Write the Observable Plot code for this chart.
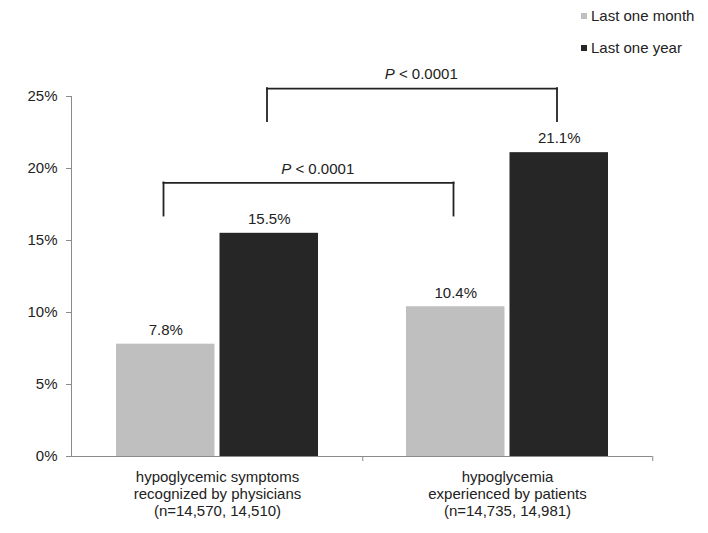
<!DOCTYPE html>
<html><head><meta charset="utf-8">
<script src="https://cdn.jsdelivr.net/npm/d3@7"></script>
<script src="https://cdn.jsdelivr.net/npm/@observablehq/plot@0.6"></script>
<style>
body{margin:0;background:#fff;font-family:"Liberation Sans",Arial,sans-serif;}
#wrap{width:708px;}
#legend{position:relative;height:64px;font-size:15px;color:#222;}
.item{position:absolute;left:581px;display:flex;align-items:center;height:18px;line-height:18px;white-space:nowrap;}
.sw{width:6px;height:6px;margin-right:4px;}
</style></head><body>
<div id="wrap"><div id="legend"></div><div id="chart"></div></div>
<script>
const categories = [
  "hypoglycemic symptoms\nrecognized by physicians\n(n=14,570, 14,510)",
  "hypoglycemia\nexperienced by patients\n(n=14,735, 14,981)"
];
const seriesNames = ["Last one month", "Last one year"];
const lastMonth = [7.8, 10.4];
const lastYear = [15.5, 21.1];
const seriesColors = ["#bfbfbf", "#262626"];
const yTicks = [0, 5, 10, 15, 20, 25];
const pLabels = ["P < 0.0001", "P < 0.0001"];
const bracketSeries = ["Last one month", "Last one year"];
const bracketTop = [19.0, 25.55];
const bracketBottom = [16.7, 23.25];

// legend
const legend = document.getElementById("legend");
seriesNames.forEach((s, i) => {
  const it = document.createElement("div");
  it.className = "item";
  it.style.top = (7 + i * 32) + "px";
  const sw = document.createElement("span");
  sw.className = "sw";
  sw.style.background = seriesColors[i];
  it.appendChild(sw);
  it.appendChild(document.createTextNode(s));
  legend.appendChild(it);
});

const W = 708, H = 469, mL = 71, mR = 56, mT = 32, mB = 77;
const bw = (W - mL - mR) / categories.length;
const gap = 4.5, barW = 99;
const sOff = s => (s === seriesNames[0] ? -1 : 1) * (gap / 2 + barW / 2);
const data = categories.flatMap((c, i) => [
  {category: c, series: seriesNames[0], value: lastMonth[i]},
  {category: c, series: seriesNames[1], value: lastYear[i]}
]);
const brackets = bracketSeries.map((s, i) => ({
  series: s, from: categories[0], to: categories[1],
  top: bracketTop[i], bottom: bracketBottom[i], label: pLabels[i]
}));
const axisColor = "#8a8a8a", ink = "#222";

const marks = [
  Plot.frame({anchor: "left", stroke: axisColor}),
  Plot.ruleY([0], {stroke: axisColor}),
  Plot.ruleX(categories, {x: d => d, y1: 0, y2: -0.35, dx: bw / 2, stroke: axisColor}),
  Plot.axisY({ticks: yTicks, tickFormat: d => d + "%", tickSize: 5, tickPadding: 9, fontSize: 15, stroke: axisColor, fill: ink}),
  Plot.text(categories, {x: d => d, text: d => d, frameAnchor: "bottom", lineAnchor: "top", dy: 13, lineHeight: 1.133, fontSize: 15, fill: ink}),
  ...seriesNames.map(s => Plot.barY(data.filter(d => d.series === s), {
    x: "category", y: "value", fill: "series",
    insetLeft: bw / 2 + sOff(s) - barW / 2, insetRight: bw / 2 - sOff(s) - barW / 2
  })),
  ...seriesNames.map(s => Plot.text(data.filter(d => d.series === s), {
    x: "category", y: "value", text: d => d.value.toFixed(1) + "%",
    dx: sOff(s), dy: -14, fontSize: 15, fill: ink
  })),
  ...brackets.flatMap(b => {
    const dx = sOff(b.series) - 2.25;
    const st = {stroke: ink, strokeWidth: 1.8, strokeLinecap: "square"};
    return [
      Plot.ruleX([b], {x: "from", y1: "bottom", y2: "top", dx, ...st}),
      Plot.ruleX([b], {x: "to", y1: "bottom", y2: "top", dx, ...st}),
      Plot.link([b], {x1: "from", x2: "to", y1: "top", y2: "top", dx, ...st}),
      Plot.text([b], {x: "from", y: "top", text: "label", dx: bw / 2 + dx + 9, dy: -14, fontSize: 15, fill: ink})
    ];
  })
];

const plot = Plot.plot({
  width: W, height: H,
  marginLeft: mL, marginRight: mR, marginTop: mT, marginBottom: mB,
  style: {fontFamily: '"Liberation Sans", Arial, sans-serif', fontSize: "15px", color: ink, background: "#fff"},
  x: {domain: categories, padding: 0, axis: null},
  y: {domain: [0, 25], axis: null},
  color: {domain: seriesNames, range: seriesColors},
  marks
});

// italicize the leading "P" of the p-value labels
d3.select(plot).selectAll("text").each(function () {
  const t = d3.select(this);
  const s = t.text();
  if (pLabels.includes(s) && this.childElementCount === 0) {
    t.text(null);
    t.append("tspan").style("font-style", "italic").text(s.slice(0, 1));
    t.append("tspan").text(s.slice(1));
  }
});

document.getElementById("chart").appendChild(plot);
</script>
</body></html>
